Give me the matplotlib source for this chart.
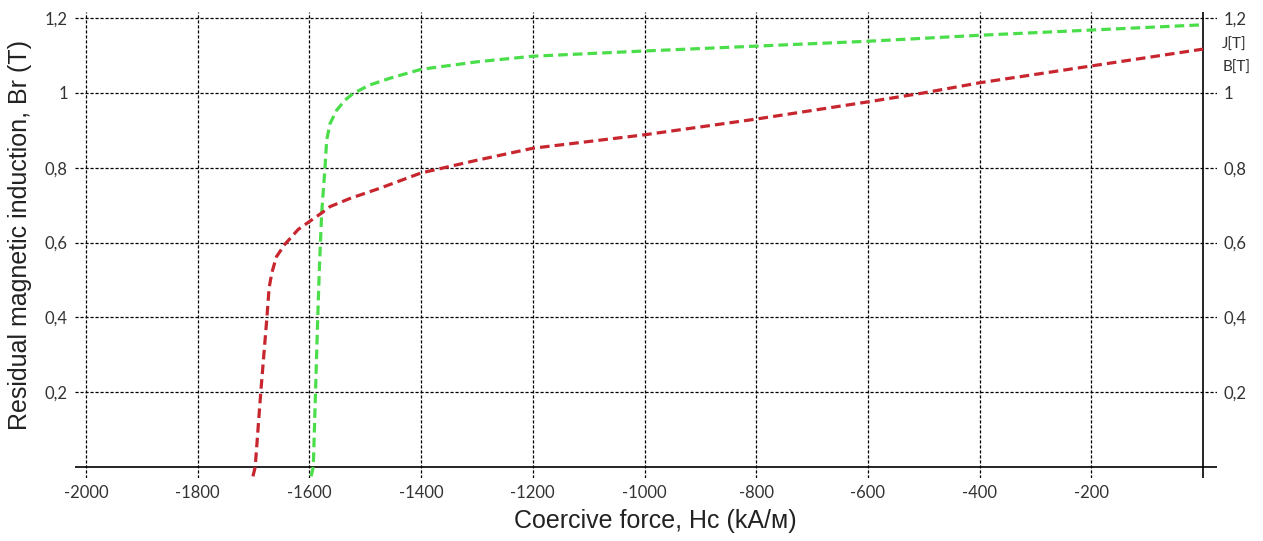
import matplotlib.pyplot as plt
import numpy as np

# demagnetisation curves
h_j = [-1597, -1593, -1589, -1585, -1582, -1578, -1572, -1569, -1563, -1551,
       -1536, -1521, -1492, -1456, -1400, -1300, -1200, -1000, -800, -600,
       -400, -200, 0]
j_t = [-0.025, 0.0, 0.2, 0.4, 0.535, 0.678, 0.8, 0.874, 0.918, 0.954,
       0.981, 0.999, 1.021, 1.039, 1.063, 1.083, 1.098, 1.112, 1.125, 1.138,
       1.154, 1.168, 1.182]

h_b = [-1701, -1697, -1687, -1676, -1672, -1667, -1659, -1644, -1620, -1600,
       -1577, -1563, -1527, -1474, -1400, -1300, -1200, -1000, -800, -600,
       -500, -400, -200, 0]
b_t = [-0.025, 0.0, 0.2, 0.4, 0.48, 0.52, 0.562, 0.595, 0.635, 0.656,
       0.68, 0.696, 0.718, 0.745, 0.786, 0.82, 0.852, 0.888, 0.930, 0.976,
       1.0, 1.027, 1.072, 1.117]

x_ticks = [-2000, -1800, -1600, -1400, -1200, -1000, -800, -600, -400, -200]
y_ticks = [0.2, 0.4, 0.6, 0.8, 1.0, 1.2]
y_labels = ["0,2", "0,4", "0,6", "0,8", "1", "1,2"]

TICK_FONT = "Lato"
LABEL_FONT = "Liberation Sans"

fig = plt.figure(figsize=(12.63, 5.41), dpi=100)
ax = fig.add_axes([0.0592, 0.116, 0.9044, 0.861])

ax.set_xlim(-2020, 25)
ax.set_ylim(-0.03, 1.215)
for s in ax.spines.values():
    s.set_visible(False)

ax.set_xticks(x_ticks)
ax.set_xticklabels([str(v) for v in x_ticks], fontsize=12, family=TICK_FONT)
ax.set_yticks(y_ticks)
ax.set_yticklabels(y_labels, fontsize=12, family=TICK_FONT)
ax.tick_params(axis="both", length=0, colors="#333333")
ax.tick_params(axis="x", pad=5)
ax.tick_params(axis="y", pad=5, labelright=True)
for t in ax.yaxis.get_major_ticks():
    t.label2.set_family(TICK_FONT)
    t.label2.set_fontsize(12)

ax.grid(True, color="black", lw=0.9, ls=(0, (2.5, 1.5)))
ax.axhline(0, color="black", lw=1.2, zorder=3)
ax.axvline(0, color="black", lw=1.2, zorder=3)

ax.plot(h_j, j_t, color="#4ade4a", lw=2.3, dashes=(3, 1.6), zorder=4)
ax.plot(h_b, b_t, color="#c8262e", lw=2.3, dashes=(3, 1.6), zorder=4)

tr = ax.get_yaxis_transform()
ax.text(1.004, 1.128, "J[T]", transform=tr, fontsize=11, family=TICK_FONT,
        color="#333333", va="center", ha="left")
ax.text(1.005, 1.066, "B[T]", transform=tr, fontsize=11, family=TICK_FONT,
        color="#333333", va="center", ha="left")

ax.set_xlabel("Coercive force, Hc (kA/м)", fontsize=18, family=LABEL_FONT,
              color="#222222")
ax.set_ylabel("Residual magnetic induction, Br (T)", fontsize=18,
              family=LABEL_FONT, color="#222222")
ax.xaxis.set_label_coords(0.508, -0.066)
ax.yaxis.set_label_coords(-0.048, 0.522)
ax.yaxis.label.set_va("center")

fig.savefig("out.png", dpi=100)
